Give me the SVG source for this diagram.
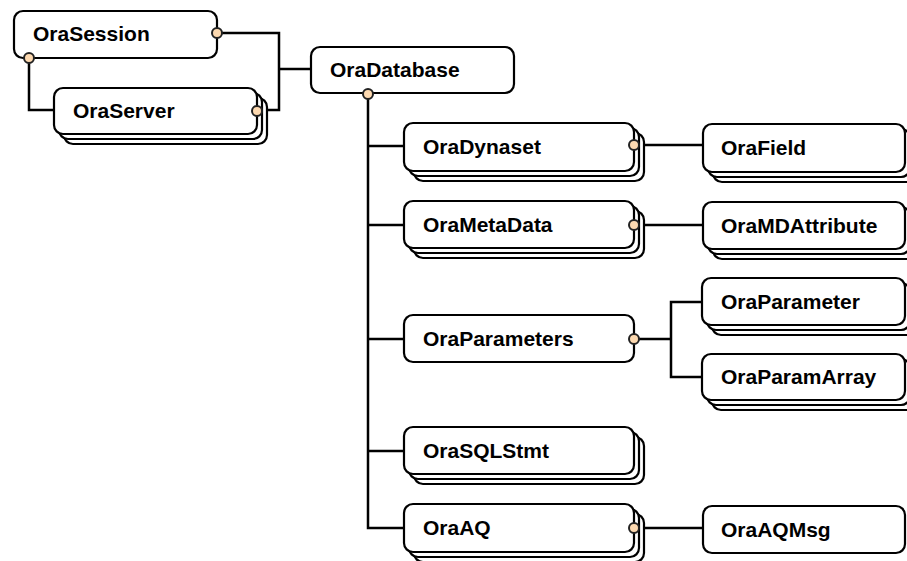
<svg xmlns="http://www.w3.org/2000/svg" width="907" height="561" viewBox="0 0 907 561">
<defs>
<style>
.box{fill:#fff;stroke:#000;stroke-width:2.2}
.lbl{font-family:"Liberation Sans",Arial,Helvetica,sans-serif;font-weight:bold;font-size:21px;fill:#000}
.con{fill:none;stroke:#000;stroke-width:2.5}
.dot{fill:#fdd9b0;stroke:#222;stroke-width:2}
</style>
</defs>
<rect width="907" height="561" fill="#fff"/>
<g id="connectors">
<path class="con" d="M217 33 H279 V110 H257"/>
<path class="con" d="M279 69 H311"/>
<path class="con" d="M29 58 V110 H54"/>
<path class="con" d="M368 94 V528 H404"/>
<path class="con" d="M368 146 H404"/>
<path class="con" d="M368 225 H404"/>
<path class="con" d="M368 339 H404"/>
<path class="con" d="M368 451 H404"/>
<path class="con" d="M634 145 H703"/>
<path class="con" d="M634 225 H703"/>
<path class="con" d="M634 339 H671"/>
<path class="con" d="M702 302 H671 V377 H702"/>
<path class="con" d="M634 528 H703"/>
</g>
<g id="OraSession">
<rect class="box" x="14" y="11" width="203" height="47" rx="9"/>
<text class="lbl" x="33" y="41">OraSession</text>
<circle class="dot" cx="217" cy="33" r="5"/>
<circle class="dot" cx="29" cy="58" r="5"/>
</g>
<g id="OraServer">
<rect class="box" x="64" y="98" width="203" height="46" rx="9"/>
<rect class="box" x="59" y="93" width="203" height="46" rx="9"/>
<rect class="box" x="54" y="88" width="203" height="46" rx="9"/>
<text class="lbl" x="73" y="118">OraServer</text>
<circle class="dot" cx="257" cy="111" r="5"/>
</g>
<g id="OraDatabase">
<rect class="box" x="311" y="47" width="203" height="46" rx="9"/>
<text class="lbl" x="330" y="77">OraDatabase</text>
<circle class="dot" cx="368" cy="94" r="5"/>
</g>
<g id="OraDynaset">
<rect class="box" x="414" y="133" width="230" height="48" rx="9"/>
<rect class="box" x="409" y="128" width="230" height="48" rx="9"/>
<rect class="box" x="404" y="123" width="230" height="48" rx="9"/>
<text class="lbl" x="423" y="154">OraDynaset</text>
<circle class="dot" cx="634" cy="145" r="5"/>
</g>
<g id="OraField">
<rect class="box" x="713" y="134" width="202" height="48" rx="9"/>
<rect class="box" x="708" y="129" width="202" height="48" rx="9"/>
<rect class="box" x="703" y="124" width="202" height="48" rx="9"/>
<text class="lbl" x="721" y="155">OraField</text>
</g>
<g id="OraMetaData">
<rect class="box" x="414" y="211" width="230" height="47" rx="9"/>
<rect class="box" x="409" y="206" width="230" height="47" rx="9"/>
<rect class="box" x="404" y="201" width="230" height="47" rx="9"/>
<text class="lbl" x="423" y="232">OraMetaData</text>
<circle class="dot" cx="634" cy="225" r="5"/>
</g>
<g id="OraMDAttribute">
<rect class="box" x="713" y="212" width="202" height="47" rx="9"/>
<rect class="box" x="708" y="207" width="202" height="47" rx="9"/>
<rect class="box" x="703" y="202" width="202" height="47" rx="9"/>
<text class="lbl" x="721" y="233">OraMDAttribute</text>
</g>
<g id="OraParameters">
<rect class="box" x="404" y="315" width="230" height="47" rx="9"/>
<text class="lbl" x="423" y="346">OraParameters</text>
<circle class="dot" cx="634" cy="339" r="5"/>
</g>
<g id="OraParameter">
<rect class="box" x="712" y="288" width="203" height="47" rx="9"/>
<rect class="box" x="707" y="283" width="203" height="47" rx="9"/>
<rect class="box" x="702" y="278" width="203" height="47" rx="9"/>
<text class="lbl" x="721" y="309">OraParameter</text>
</g>
<g id="OraParamArray">
<rect class="box" x="712" y="364" width="203" height="46" rx="9"/>
<rect class="box" x="707" y="359" width="203" height="46" rx="9"/>
<rect class="box" x="702" y="354" width="203" height="46" rx="9"/>
<text class="lbl" x="721" y="384">OraParamArray</text>
</g>
<g id="OraSQLStmt">
<rect class="box" x="414" y="437" width="230" height="47" rx="9"/>
<rect class="box" x="409" y="432" width="230" height="47" rx="9"/>
<rect class="box" x="404" y="427" width="230" height="47" rx="9"/>
<text class="lbl" x="423" y="458">OraSQLStmt</text>
</g>
<g id="OraAQ">
<rect class="box" x="414" y="514" width="230" height="48" rx="9"/>
<rect class="box" x="409" y="509" width="230" height="48" rx="9"/>
<rect class="box" x="404" y="504" width="230" height="48" rx="9"/>
<text class="lbl" x="423" y="535">OraAQ</text>
<circle class="dot" cx="634" cy="528" r="5"/>
</g>
<g id="OraAQMsg">
<rect class="box" x="703" y="506" width="202" height="47" rx="9"/>
<text class="lbl" x="721" y="537">OraAQMsg</text>
</g>
</svg>
